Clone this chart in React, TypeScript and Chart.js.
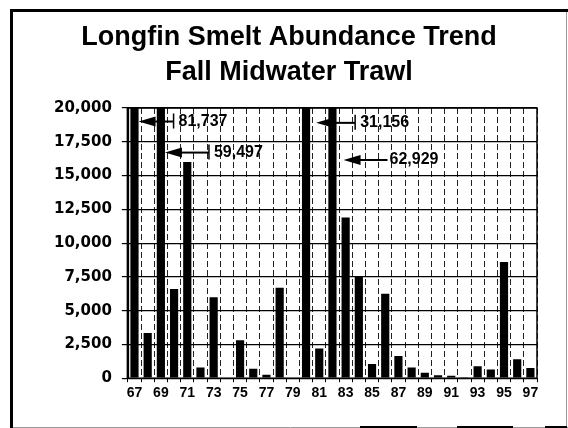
import React, { useEffect, useRef } from "react";
import { Chart, registerables } from "chart.js";

Chart.register(...registerables);

const titleLines = ["Longfin Smelt Abundance Trend", "Fall Midwater Trawl"];

const years = [
  "67", "68", "69", "70", "71", "72", "73", "74", "75", "76", "77",
  "78", "79", "80", "81", "82", "83", "84", "85", "86", "87", "88",
  "89", "90", "91", "92", "93", "94", "95", "96", "97",
];

// Fall Midwater Trawl abundance index (74 and 79: no survey)
const abundance: (number | null)[] = [
  81737, 3350, 59497, 6600, 16000, 800, 6000, null, 2800, 700, 250,
  6700, null, 31156, 2200, 62929, 11900, 7550, 1050, 6250, 1650, 800,
  400, 220, 180, 70, 880, 650, 8600, 1400, 750,
];

const yMin = 0;
const yMax = 20000;
const yStep = 2500;

// off-scale bars that get a callout arrow, and the level (in index units) of the arrow
const calloutYears = ["67", "69", "80", "82"];
const calloutLevels = [19000, 16700, 18900, 16150];

const calloutStyle = {
  gaps: [0, 0, 6, 7],
  lengths: [35, 44, 39, 44],
  ticks: [true, true, true, false],
};

const fmt = (v: number) => v.toLocaleString("en-US");

const framePlugin = {
  id: "frame",
  beforeDraw(chart: any) {
    const { ctx, width, height } = chart;
    ctx.save();
    ctx.fillStyle = "#ffffff";
    ctx.fillRect(0, 0, width, height);
    ctx.fillStyle = "#000";
    ctx.fillRect(10, 9, 3, height - 9);
    ctx.fillRect(10, 9, width - 10, 3);
    ctx.strokeStyle = "#9a9a9a";
    ctx.lineWidth = 1;
    ctx.beginPath();
    ctx.moveTo(566.5, 12);
    ctx.lineTo(566.5, height);
    ctx.moveTo(13, 427.5);
    ctx.lineTo(width, 427.5);
    ctx.stroke();
    ctx.fillStyle = "#000";
    ctx.fillRect(360, 426, 57, 2);
    ctx.fillRect(457, 426, 56, 2);
    ctx.fillRect(545, 426, 22, 2);
    // titles
    ctx.fillStyle = "#000";
    ctx.textAlign = "center";
    ctx.textBaseline = "alphabetic";
    ctx.font = '700 27px "Liberation Sans", Arial, sans-serif';
    ctx.fillText(titleLines[0], 289, 45);
    ctx.fillText(titleLines[1], 289, 80);
    ctx.restore();
  },
};

const calloutPlugin = {
  id: "callouts",
  afterDatasetsDraw(chart: any) {
    const { ctx, chartArea } = chart;
    const yScale = chart.scales.y;
    const meta = chart.getDatasetMeta(0);
    ctx.save();
    // plot frame
    ctx.strokeStyle = "#000";
    ctx.lineWidth = 1.5;
    ctx.strokeRect(chartArea.left, chartArea.top, chartArea.right - chartArea.left, chartArea.bottom - chartArea.top);
    ctx.lineWidth = 2.5;
    ctx.beginPath();
    ctx.moveTo(chartArea.left, chartArea.top);
    ctx.lineTo(chartArea.left, chartArea.bottom);
    ctx.stroke();

    calloutYears.forEach((yr, i) => {
      const idx = years.indexOf(yr);
      const bar: any = meta.data[idx];
      const value = abundance[idx] as number;
      const y = yScale.getPixelForValue(calloutLevels[i]);
      const tipX = bar.x + bar.width / 2 + calloutStyle.gaps[i];
      const baseX = tipX + 17;
      const endX = tipX + calloutStyle.lengths[i];
      ctx.fillStyle = "#000";
      ctx.beginPath();
      ctx.moveTo(tipX, y);
      ctx.lineTo(baseX, y - 5);
      ctx.lineTo(baseX, y + 5);
      ctx.closePath();
      ctx.fill();
      ctx.strokeStyle = "#000";
      ctx.lineWidth = 2;
      ctx.beginPath();
      ctx.moveTo(baseX - 1, y);
      ctx.lineTo(endX, y);
      ctx.stroke();
      if (calloutStyle.ticks[i]) {
        ctx.lineWidth = 1.5;
        ctx.beginPath();
        ctx.moveTo(endX, y - 8);
        ctx.lineTo(endX, y + 7);
        ctx.stroke();
      }
      ctx.font = '700 16px "Liberation Sans", Arial, sans-serif';
      ctx.textAlign = "left";
      ctx.textBaseline = "middle";
      ctx.fillText(fmt(value), endX + (calloutStyle.ticks[i] ? 5 : 2), y);
    });
    ctx.restore();
  },
};

export default function App() {
  const ref = useRef<HTMLCanvasElement | null>(null);

  useEffect(() => {
    if (!ref.current) return;
    const chart = new Chart(ref.current, {
      type: "bar",
      data: {
        labels: years,
        datasets: [
          {
            data: abundance,
            backgroundColor: "#000",
            borderWidth: 0,
            barPercentage: 0.62,
            categoryPercentage: 1,
          },
        ],
      },
      options: {
        responsive: false,
        animation: false,
        devicePixelRatio: 1,
        layout: { padding: { top: 108, left: 44, right: 31, bottom: 23 } },
        plugins: {
          legend: { display: false },
          title: { display: false },
          tooltip: { enabled: false },
        },
        scales: {
          x: {
            offset: true,
            grid: {
              offset: true,
              color: "#222",
              lineWidth: 1,
              tickLength: 4,
              tickColor: "#000",
            },
            border: { display: false, dash: [6, 3] },
            ticks: {
              autoSkip: false,
              maxRotation: 0,
              minRotation: 0,
              padding: 3,
              color: "#000",
              font: { family: '"Liberation Sans", Arial, sans-serif', size: 14, weight: "bold" },
              callback: (_v: any, i: number) => (i % 2 === 0 ? years[i] : ""),
            },
          },
          y: {
            min: yMin,
            max: yMax,
            grid: { color: "#000", lineWidth: 1.2, tickLength: 6 },
            border: { display: false },
            ticks: {
              stepSize: yStep,
              padding: 10,
              color: "#000",
              font: { family: '"DejaVu Sans", sans-serif', size: 15, weight: "bold" },
              callback: (v: any) => fmt(Number(v)),
            },
          },
        },
      },
      plugins: [framePlugin, calloutPlugin],
    });
    return () => chart.destroy();
  }, []);

  return (
    <div style={{ position: "fixed", left: 0, top: 0, width: 568, height: 428, background: "#fff" }}>
      <canvas ref={ref} width={568} height={428} style={{ display: "block", width: 568, height: 428 }} />
    </div>
  );
}
